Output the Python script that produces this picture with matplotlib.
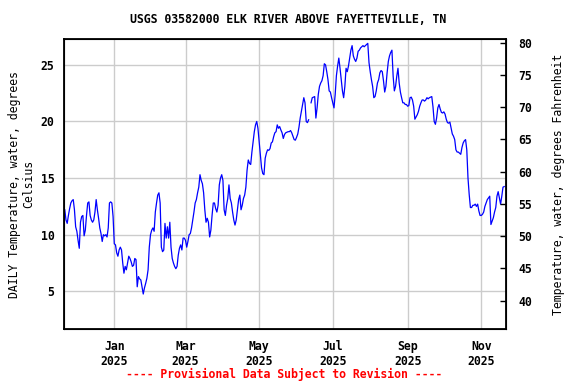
import datetime as dt

import matplotlib
matplotlib.use("Agg")
import matplotlib.pyplot as plt
import matplotlib.dates as mdates
import numpy as np
import pandas as pd

# daily mean water temperature, deg C, starting 2024-11-21 (nan = missing day)
start_date = "2024-11-21"
temp_c = [
    12.2, 11.3, 11.0, 11.7, 12.3, 12.8, 13.0, 13.1, 12.2, 10.7,
    10.3, 9.5, 8.8, 11.1, 11.6, 11.7, 9.9, 10.4, 11.7, 12.8,
    12.9, 11.7, 11.3, 11.1, 11.3, 12.0, 13.1, 12.2, 11.45, 10.6,
    10.1, 9.4, 10.0, 9.9, 10.0, 9.8, 10.6, 12.8, 12.9, 12.8,
    11.6, 9.2, 9.1, 8.4, 8.1, 8.65, 8.9, 8.65, 7.5, 6.6,
    7.2, 6.9, 7.5, 8.1, 7.9, 7.6, 7.2, 7.3, 7.9, 7.8,
    5.4, 6.3,
    6.1, 6.0, 5.4, 4.76, 5.3, 5.7, 6.15, 6.9, 8.9, 10.0,
    10.4, 10.6, 10.3, 12.0, 12.8, 13.5, 13.7, 12.8, 8.9, 8.5,
    8.65, 11.0, 9.7, 10.7, 9.7, 11.1, 8.9, 7.9, 7.5, 7.2,
    7.0, 7.2, 8.2, 8.8, 9.1, 8.65, 9.7, 9.7, 9.5, 8.9,
    9.4, 10.0, 10.1, 10.6, 11.3, 12.0, 12.8, 13.1, 13.7, 14.2,
    15.3, 14.8, 14.5, 13.7, 12.2, 11.1, 11.45, 11.1, 9.8, 10.4,
    11.7, 12.8,
    12.8, 12.3, 12.0, 12.6, 14.4, 15.0, 15.3, 14.8, 12.2, 11.7,
    12.6, 13.2, 14.4, 13.2, 12.8, 12.0, 11.3, 10.85, 11.3, 12.2,
    13.1, 13.5, 12.2, 12.6, 13.2, 13.5, 14.2, 15.7, 16.6, 16.3,
    16.2, 17.3, 18.2, 19.1, 19.7, 20.0, 19.4, 18.2, 17.0, 15.9,
    15.4, 15.3, 16.75, 17.2, 17.5, 17.45, 17.6, 18.1, 18.2, 18.65,
    19.0, 19.1, 19.7, 19.4, 19.55, 19.25, 19.0, 18.5, 18.85, 19.0,
    19.05, 19.1,
    19.1, 19.2, 19.0, 18.7, 18.4, 18.35, 18.6, 18.9, 19.5, 20.3,
    20.9, 21.5, 22.1, 21.65, 20.0, 19.9, 20.15, np.nan, 21.65, 22.1,
    22.15, 22.2, 20.3, 21.2, 22.4, 23.1, 23.4, 23.6, 24.05, 25.1,
    25.0, 24.4, 23.7, 22.7, 22.6, 22.1, 21.65, 21.2, 22.4, 24.05,
    24.9, 25.6, 24.7, 23.7, 22.7, 22.1, 23.1, 24.7, 24.4, 24.9,
    25.6, 26.3, 26.7, 25.8, 25.5, 25.3, 25.6, 26.2,
    26.3, 26.5, 26.6, 26.7, 26.6, 26.7, 26.8, 26.9, 25.2, 24.4,
    23.7, 23.1, 22.1, 22.2, 22.7, 23.4, 23.7, 24.3, 24.5, 24.4,
    23.6, 22.6, 23.1, 24.3, 25.3, 25.8, 26.1, 26.3, 24.0, 22.7,
    23.1, 24.0, 24.7, 23.4, 22.6, 22.1, 21.65, 21.65, 21.5, 21.5,
    21.35, 21.4, 22.1, 22.15, 21.9, 21.35, 20.2, 20.4, 20.6, 20.9,
    21.35, 21.65, 21.9, 21.9, 21.8, 21.9, 22.1, 22.0,
    22.1, 22.15, 22.2, 21.3, 20.0, 19.75, 20.3, 21.2, 21.5, 21.1,
    20.8, 20.75, 20.85, 20.65, 20.2, 19.9, 19.85, 19.95, 19.4, 18.9,
    18.7, 18.4, 17.5, 17.3, 17.3, 17.2, 17.1, 17.7, 18.1, 18.3,
    18.4, 17.5, 15.0, 13.55, 12.4, 12.4, 12.6, 12.6, 12.7, 12.5,
    12.7, 12.1, 11.7, 11.7, 11.8, 12.0, 12.5, 12.8, 13.1, 13.25,
    13.4, 10.9, 11.2, 11.5, 12.0, 12.4, 13.4, 13.8, 13.25, 12.7,
    13.4, 14.2, 14.25,
]

celsius_ticks = [5, 10, 15, 20, 25]
fahrenheit_ticks = [40, 45, 50, 55, 60, 65, 70, 75, 80]
month_ticks = ["2025-01-01", "2025-03-01", "2025-05-01",
               "2025-07-01", "2025-09-01", "2025-11-01"]

title = "USGS 03582000 ELK RIVER ABOVE FAYETTEVILLE, TN"
left_label = "DAILY Temperature, water, degrees\nCelsius"
right_label = "Temperature, water, degrees Fahrenheit"
footer = "---- Provisional Data Subject to Revision ----"

dates = pd.date_range(start_date, periods=len(temp_c), freq="D")

plt.rcParams["font.family"] = "DejaVu Sans Mono"
plt.rcParams["font.weight"] = "bold"
plt.rcParams["font.size"] = 8.3

fig = plt.figure(figsize=(5.76, 3.84), dpi=100)
ax = fig.add_axes([0.1116, 0.1432, 0.7669, 0.7545])

ax.plot(dates, temp_c, color="#0000ff", lw=0.9)

ax.set_xlim(dt.datetime(2024, 11, 20, 14), dt.datetime(2025, 11, 21, 12))
ax.set_ylim(1.67, 27.26)

ax.set_yticks(celsius_ticks)
ax.set_xticks(pd.to_datetime(month_ticks))
ax.xaxis.set_major_formatter(mdates.DateFormatter("%b\n%Y"))
ax.tick_params(axis="both", length=0, pad=7)
ax.tick_params(axis="x", pad=8)
ax.grid(True, color="#cccccc", lw=1)
ax.set_axisbelow(True)
for s in ax.spines.values():
    s.set_linewidth(1.3)

ax.set_ylabel(left_label, labelpad=4, linespacing=1.1)

# right axis in Fahrenheit
ax2 = ax.twinx()
ax2.set_ylim(35.6, 80.5)
ax2.set_yticks(fahrenheit_ticks)
ax2.tick_params(axis="y", direction="in", length=4, width=1, pad=9)
ax2.set_ylabel(right_label, labelpad=14)

fig.text(0.5, 0.95, title, ha="center", va="center")
fig.text(0.493, 0.024, footer, ha="center", va="center", color="#ff0000")

fig.savefig("out.png", dpi=100)
